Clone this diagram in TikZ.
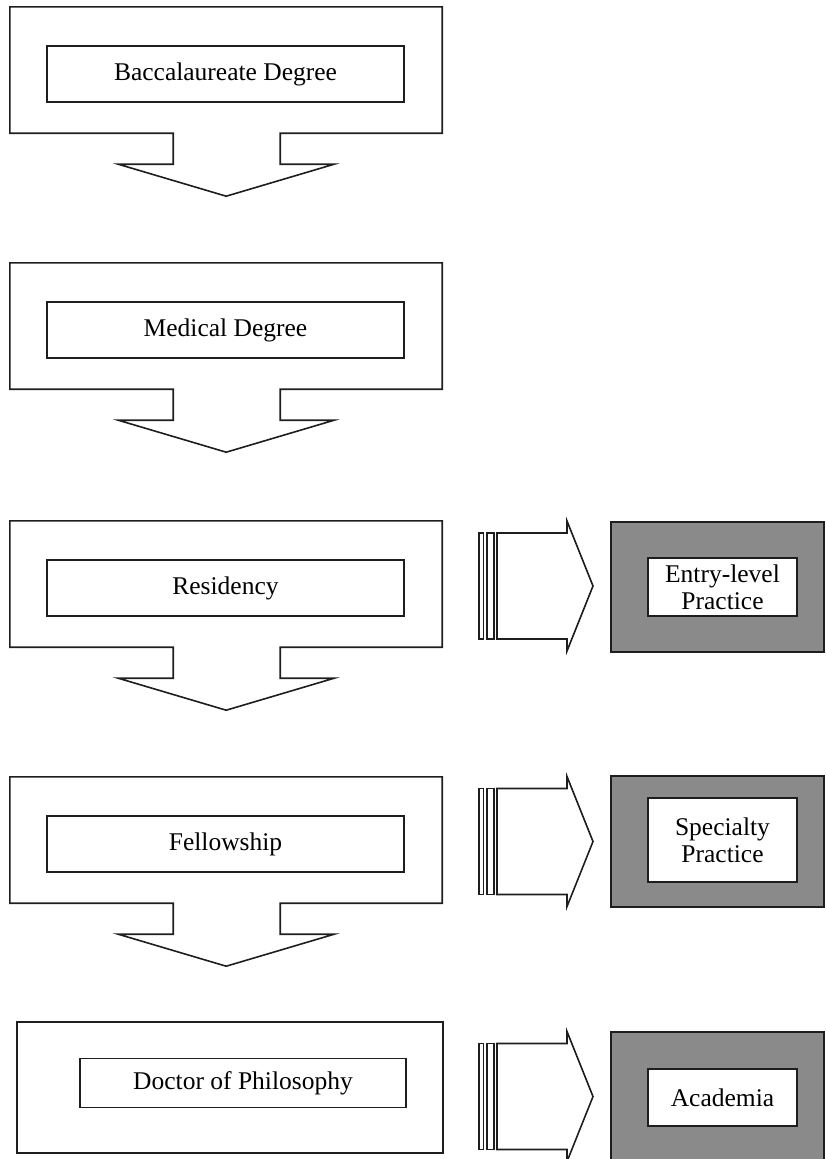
\documentclass[tikz,border=0pt]{standalone}
\usepackage{fontspec}
\setmainfont{Liberation Serif}
\usepackage{tikz}
\usetikzlibrary{positioning}
\definecolor{lineColor}{RGB}{30, 30, 30}
\definecolor{shadeGray}{RGB}{138, 138, 138}

\begin{document}
\begin{tikzpicture}[x=1pt, y=-1pt,
    every node/.style={font=\fontsize{25.5}{27}\selectfont, inner sep=0pt, align=center},
    stage/.style={minimum width=432pt, minimum height=126pt},
    degree/.style={draw=lineColor, line width=1.7pt, fill=white, minimum width=357pt, minimum height=56pt},
    outline/.style={draw=lineColor, line width=1.6pt, line join=miter},
    outcome/.style={draw=lineColor, line width=1.6pt, fill=shadeGray, minimum width=213pt, minimum height=130pt},
    result/.style={draw=lineColor, line width=1.8pt, fill=white, minimum width=149pt},
    bar/.style={draw=lineColor, line width=1.3pt, minimum height=106pt}]
    \useasboundingbox (0,0) rectangle (825,1159);

    \node[stage] (bacc) at (226,70) {};
    \node[stage] (med) at (226,326) {};
    \node[stage] (res) at (226,584) {};
    \node[stage] (fell) at (226,840) {};
    \node[outline, minimum width=426pt, minimum height=131pt] (phd) at (230,1087.5) {};

    % outer frames with the arrow down to the next step
    \draw[outline] (bacc.north west) -- (bacc.north east) -- (bacc.south east) -- ++(-162,0) -- ++(0,31) -- ++(54,0) -- ++(-108,32) -- ++(-108,-32) -- ++(55,0) -- ++(0,-31) -- (bacc.south west) -- cycle;
    \draw[outline] (med.north west) -- (med.north east) -- (med.south east) -- ++(-162,0) -- ++(0,31) -- ++(54,0) -- ++(-108,32) -- ++(-108,-32) -- ++(55,0) -- ++(0,-31) -- (med.south west) -- cycle;
    \draw[outline] (res.north west) -- (res.north east) -- (res.south east) -- ++(-162,0) -- ++(0,31) -- ++(54,0) -- ++(-108,32) -- ++(-108,-32) -- ++(55,0) -- ++(0,-31) -- (res.south west) -- cycle;
    \draw[outline] (fell.north west) -- (fell.north east) -- (fell.south east) -- ++(-162,0) -- ++(0,31) -- ++(54,0) -- ++(-108,32) -- ++(-108,-32) -- ++(55,0) -- ++(0,-31) -- (fell.south west) -- cycle;

    \node[degree] (baccText) at (225.5,74) {Baccalaureate Degree};
    \node[degree] (medText) at (225.5,330) {Medical Degree};
    \node[degree] (resText) at (225.5,588) {Residency};
    \node[degree] (fellText) at (225.5,844) {Fellowship};
    \node[degree, minimum width=326pt, minimum height=49pt] (phdText) at (243,1083) {Doctor of Philosophy};

    \node[outcome] (entry) at (717.5,587) {};
    \node[outcome, minimum height=131pt] (spec) at (717.5,841.5) {};
    \node[outcome] (acad) at (717.5,1097) {};
    \node[result, minimum height=58pt] (entryText) at (722.5,587) {Entry-level\\Practice};
    \node[result, minimum height=84pt] (specText) at (722.5,840) {Specialty\\Practice};
    \node[result, minimum height=57pt] (acadText) at (722.5,1097.5) {Academia};

    % side arrows towards practice
    \node[bar, minimum width=4.5pt] (barA1) at (481.2,586) {};
    \node[bar, minimum width=7pt] (barA2) at (490.5,586) {};
    \coordinate (tailA) at (497,586);
    \draw[outline] (tailA) ++(0,-53) -- ++(70,0) -- ++(0,-12) -- ++(26,65) -- ++(-26,65) -- ++(0,-12) -- ++(-70,0) -- cycle;

    \node[bar, minimum width=4.5pt] (barB1) at (481.2,841.5) {};
    \node[bar, minimum width=7pt] (barB2) at (490.5,841.5) {};
    \coordinate (tailB) at (497,841.5);
    \draw[outline] (tailB) ++(0,-53) -- ++(70,0) -- ++(0,-12) -- ++(26,65) -- ++(-26,65) -- ++(0,-12) -- ++(-70,0) -- cycle;

    \node[bar, minimum width=4.5pt] (barC1) at (481.2,1096.5) {};
    \node[bar, minimum width=7pt] (barC2) at (490.5,1096.5) {};
    \coordinate (tailC) at (497,1096.5);
    \draw[outline] (tailC) ++(0,-53) -- ++(70,0) -- ++(0,-12) -- ++(26,65) -- ++(-26,65) -- ++(0,-12) -- ++(-70,0) -- cycle;
\end{tikzpicture}
\end{document}
